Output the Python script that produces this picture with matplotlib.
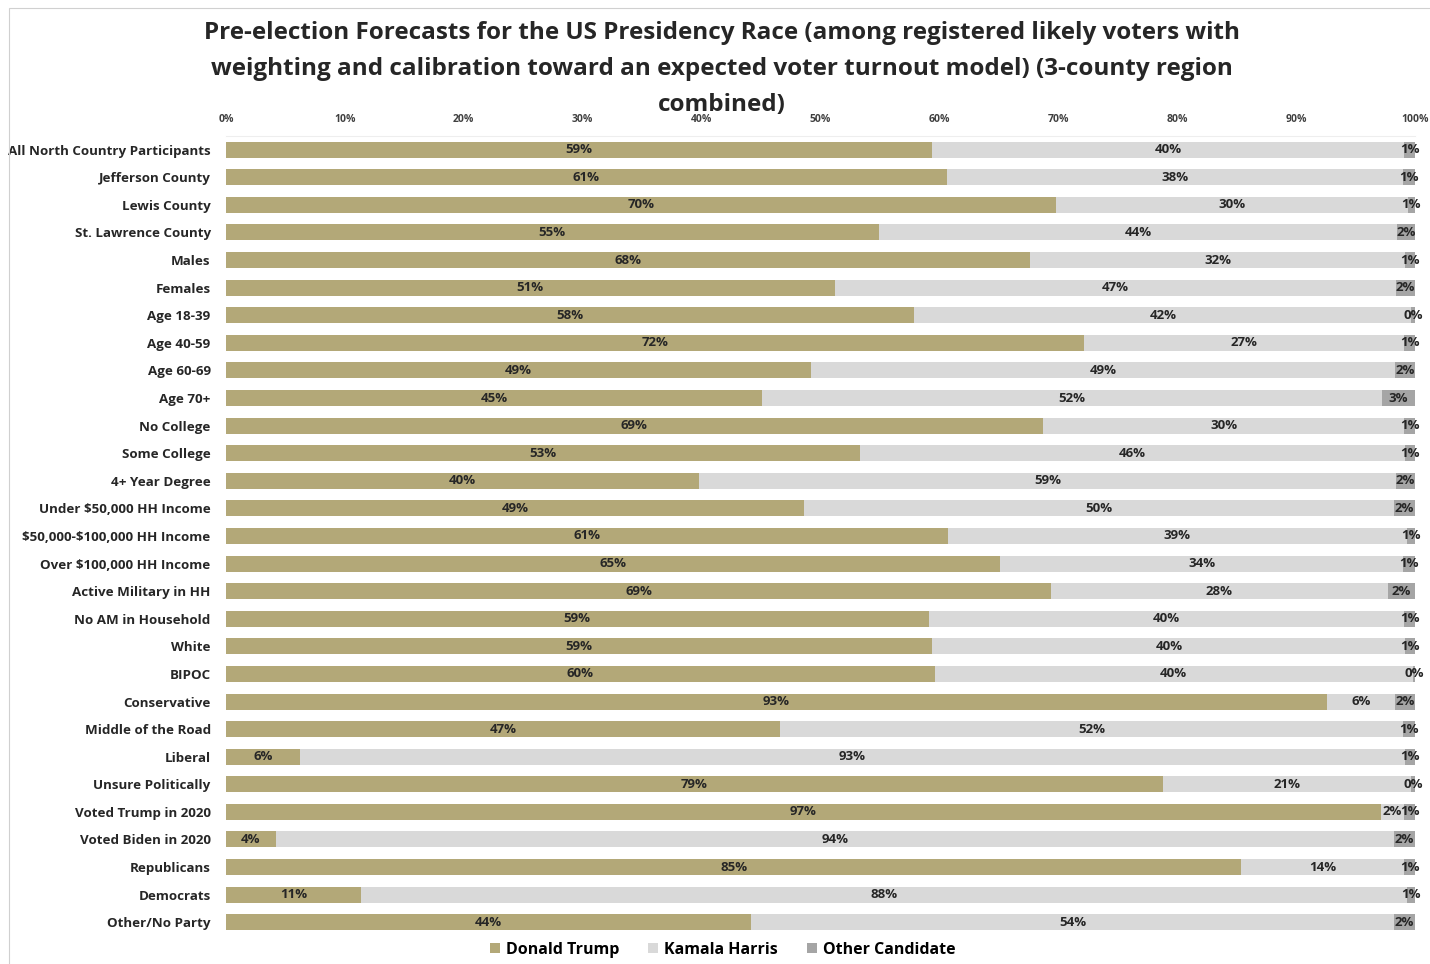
import matplotlib
matplotlib.use('Agg')
import matplotlib.pyplot as plt
import numpy as np

# Categorías (de arriba a abajo)
categorias = ['All North Country Participants', 'Jefferson County', 'Lewis County',
              'St. Lawrence County', 'Males', 'Females', 'Age 18-39', 'Age 40-59',
              'Age 60-69', 'Age 70+', 'No College', 'Some College', '4+ Year Degree',
              'Under $50,000 HH Income', '$50,000-$100,000 HH Income',
              'Over $100,000 HH Income', 'Active Military in HH', 'No AM in Household',
              'White', 'BIPOC', 'Conservative', 'Middle of the Road', 'Liberal',
              'Unsure Politically', 'Voted Trump in 2020', 'Voted Biden in 2020',
              'Republicans', 'Democrats', 'Other/No Party']

# Porcentajes estimados de la imagen
trump = [59.4, 60.6, 69.8, 54.9, 67.6, 51.2, 57.9, 72.2, 49.2, 45.1, 68.7, 53.3, 39.8,
         48.6, 60.7, 65.1, 69.4, 59.1, 59.4, 59.6, 92.6, 46.6, 6.2, 78.8, 97.1, 4.2,
         85.4, 11.4, 44.2]
harris = [39.7, 38.4, 29.6, 43.6, 31.6, 47.2, 41.8, 26.9, 49.1, 52.1, 30.4, 45.9, 58.6,
          49.6, 38.6, 33.9, 28.3, 40.0, 39.8, 40.2, 5.7, 52.4, 93.0, 20.9, 2.0, 94.0,
          13.7, 87.9, 54.0]
otro = [0.9, 1.0, 0.6, 1.5, 0.8, 1.6, 0.3, 0.9, 1.7, 2.8, 0.9, 0.8, 1.6,
        1.8, 0.7, 1.0, 2.3, 0.9, 0.8, 0.2, 1.7, 1.0, 0.8, 0.3, 0.9, 1.8,
        0.9, 0.7, 1.8]

series = ['Donald Trump', 'Kamala Harris', 'Other Candidate']
colores = ['#B3A878', '#D9D9D9', '#A5A5A5']

plt.rcParams['font.family'] = ['Open Sans', 'DejaVu Sans']
plt.rcParams['font.weight'] = 'bold'
plt.rcParams['text.parse_math'] = False

fig = plt.figure(figsize=(14.3, 9.64), dpi=100)
ax = fig.add_axes([0.158, 0.029, 0.8315, 0.830])

y = np.arange(len(categorias))
izquierda = np.zeros(len(categorias))
for valores, nombre, color in zip([trump, harris, otro], series, colores):
    valores = np.array(valores)
    ax.barh(y, valores, left=izquierda, height=0.58, color=color, label=nombre)
    for yi, (l, v) in enumerate(zip(izquierda, valores)):
        ax.text(l + v / 2, yi, f'{v:.0f}%', ha='center', va='center',
                fontsize=9.5, fontweight='bold', color='#262626')
    izquierda += valores

ax.set_ylim(len(categorias) - 0.5, -0.5)
ax.set_xlim(0, 100)
ax.set_yticks(y)
ax.set_yticklabels(categorias, fontsize=9.6, fontweight='bold', color='#262626')
ax.set_xticks(np.arange(0, 101, 10))
ax.set_xticklabels([f'{t}%' for t in range(0, 101, 10)], fontsize=7.5, fontweight='bold',
                   color='#404040')
ax.xaxis.tick_top()
ax.tick_params(axis='both', length=0)
ax.tick_params(axis='x', pad=8)
ax.tick_params(axis='y', pad=11)
for lado in ['right', 'bottom', 'left']:
    ax.spines[lado].set_visible(False)
ax.spines['top'].set_color('#EEEEEE')

# Título en tres líneas
titulo = ['Pre-election Forecasts for the US Presidency Race (among registered likely voters with',
          'weighting and calibration toward an expected voter turnout model) (3-county region',
          'combined)']
for i, linea in enumerate(titulo):
    fig.text(0.505, 1 - (33 + 36 * i) / 964, linea, ha='center', va='center',
             fontsize=17.5, fontweight='bold', color='#262626')

ax.legend(loc='lower center', bbox_to_anchor=(0.418, -0.045), ncol=3, frameon=False,
          handlelength=0.6, handleheight=0.6, handletextpad=0.4,
          columnspacing=1.8, prop={'weight': 'bold', 'size': 11.5})

# Borde del área del gráfico
fig.add_artist(plt.Rectangle((0.006, -0.01), 1.0, 1.002, transform=fig.transFigure,
                             fill=False, edgecolor='#D0D0D0', linewidth=0.8))

plt.savefig('out.png', dpi=100)
